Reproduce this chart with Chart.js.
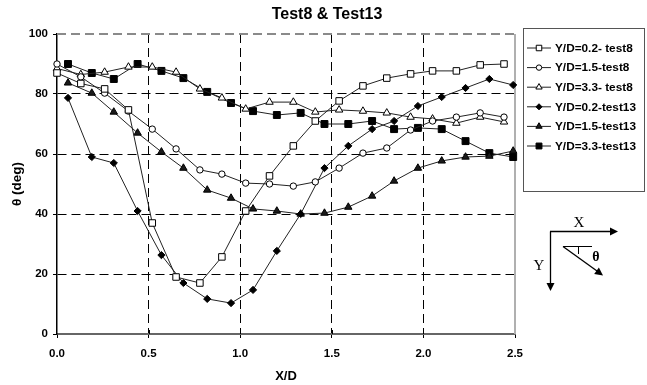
<!DOCTYPE html>
<html><head><meta charset="utf-8">
<script src="https://cdn.jsdelivr.net/npm/chart.js@4.4.0/dist/chart.umd.min.js"></script>
<style>html,body{margin:0;padding:0;background:#fff;}#wrap{width:647px;height:385px;position:relative;}</style>
</head><body><div id="wrap"><canvas id="c" width="647" height="385"></canvas></div>
<script>
// ---- data ----
const xTest8  = [0.00,0.13,0.26,0.39,0.52,0.65,0.78,0.90,1.03,1.16,1.29,1.41,1.54,1.67,1.80,1.93,2.05,2.18,2.31,2.44];
const xTest13 = [0.06,0.19,0.31,0.44,0.57,0.69,0.82,0.95,1.07,1.20,1.33,1.46,1.59,1.72,1.84,1.97,2.10,2.23,2.36,2.49];
const yd02test8  = [87,83.5,81.7,74.7,37,19,17,25.7,41,52.7,62.7,71,77.7,82.7,85.3,86.7,87.7,87.7,89.7,90];
const yd15test8  = [90,85.7,80.3,74.3,68.3,61.7,54.7,53.3,50.3,50,49.3,50.7,55.3,60.3,62,68,71,72.3,73.7,72.3];
const yd33test8  = [88.5,86.5,87.3,89,89,87.3,81.7,78.7,75,77.3,77.3,74,74.7,74.3,73.7,72.3,71.7,70.3,72.3,70.7];
const yd02test13 = [78.7,59,57,41,26.3,17,11.7,10.3,14.7,27.7,40,55.3,62.7,68.3,71,76,79,82,85,83];
const yd15test13 = [83.7,80.3,74,67,60.7,55.3,48,45.3,41.7,41,40,40.3,42.3,46,51,55.3,57.7,59,59.3,61];
const yd33test13 = [90,87,85,90,87.7,85.3,80.7,77,74.3,73,73.7,70,70,71,68.3,68.7,68.3,64.3,60.3,59];
const seriesLabels = ["Y/D=0.2- test8","Y/D=1.5-test8","Y/D=3.3- test8","Y/D=0.2-test13","Y/D=1.5-test13","Y/D=3.3-test13"];
const xTickValues = [0,0.5,1.0,1.5,2.0,2.5];
const yTickValues = [0,20,40,60,80,100];
const chartTitle = "Test8 & Test13";
const xTitle = "X/D";
const yTitle = "θ (deg)";

const pts = (xs, ys) => xs.map((x, i) => ({x: x, y: ys[i]}));
const styles = [
  {pointStyle:'rect', pointRadius:4.6, bg:'#fff'},
  {pointStyle:'circle', pointRadius:3.2, bg:'#fff'},
  {pointStyle:'triangle', pointRadius:4.3, bg:'#fff'},
  {pointStyle:'rectRot', pointRadius:3.6, bg:'#000'},
  {pointStyle:'triangle', pointRadius:4.3, bg:'#1a1a1a'},
  {pointStyle:'rect', pointRadius:4.9, bg:'#000'}
];
const seriesData = [
  pts(xTest8, yd02test8), pts(xTest8, yd15test8), pts(xTest8, yd33test8),
  pts(xTest13, yd02test13), pts(xTest13, yd15test13), pts(xTest13, yd33test13)
];
const datasets = seriesData.map((d, i) => ({
  label: seriesLabels[i], data: d, showLine: true, tension: 0,
  borderColor: '#222', borderWidth: 1,
  pointStyle: styles[i].pointStyle, pointRadius: styles[i].pointRadius,
  pointBackgroundColor: styles[i].bg, pointBorderColor: '#000', pointBorderWidth: 1,
  clip: false
}));

const FONT = '"Liberation Sans", Arial, sans-serif';

function drawMarker(ctx, style, r, bg, x, y) {
  ctx.save();
  ctx.fillStyle = bg; ctx.strokeStyle = '#000'; ctx.lineWidth = 1;
  ctx.beginPath();
  if (style === 'rect') {
    const s = r * Math.SQRT1_2; ctx.rect(x - s, y - s, 2*s, 2*s);
  } else if (style === 'circle') {
    ctx.arc(x, y, r, 0, Math.PI*2);
  } else if (style === 'triangle') {
    for (let k = 0; k < 3; k++) {
      const a = -Math.PI/2 + k*2*Math.PI/3;
      const px = x + Math.cos(a)*r, py = y + Math.sin(a)*r;
      k ? ctx.lineTo(px, py) : ctx.moveTo(px, py);
    }
    ctx.closePath();
  } else if (style === 'rectRot') {
    ctx.moveTo(x, y - r); ctx.lineTo(x + r, y); ctx.lineTo(x, y + r); ctx.lineTo(x - r, y); ctx.closePath();
  }
  ctx.fill(); ctx.stroke();
  ctx.restore();
}

function arrowHead(ctx, x1, y1, x2, y2, len, hw) {
  const a = Math.atan2(y2 - y1, x2 - x1);
  ctx.beginPath();
  ctx.moveTo(x2, y2);
  ctx.lineTo(x2 - len*Math.cos(a) + hw*Math.sin(a), y2 - len*Math.sin(a) - hw*Math.cos(a));
  ctx.lineTo(x2 - len*Math.cos(a) - hw*Math.sin(a), y2 - len*Math.sin(a) + hw*Math.cos(a));
  ctx.closePath(); ctx.fill();
}

const decor = {
  id: 'decor',
  beforeDatasetsDraw(chart) {
    const {ctx, chartArea: a} = chart;
    ctx.save();
    ctx.strokeStyle = '#8a8a8a'; ctx.lineWidth = 2;
    ctx.setLineDash([9,5]);
    ctx.beginPath(); ctx.moveTo(a.left, a.top); ctx.lineTo(a.right, a.top); ctx.stroke();
    ctx.setLineDash([]);
    ctx.strokeStyle = '#b0b0b0';
    ctx.beginPath(); ctx.moveTo(a.right, a.top); ctx.lineTo(a.right, a.bottom); ctx.stroke();
    // x tick marks crossing the axis line
    const xs = chart.scales.x;
    ctx.strokeStyle = '#000'; ctx.lineWidth = 1;
    xTickValues.forEach(v => {
      if (v === 0 || v === 2.5) return;
      const px = Math.round(xs.getPixelForValue(v)) + 0.5;
      ctx.beginPath(); ctx.moveTo(px, a.bottom - 4); ctx.lineTo(px, a.bottom); ctx.stroke();
    });
    ctx.restore();
  },
  afterDraw(chart) {
    const {ctx, chartArea: a} = chart;
    ctx.save();
    // title
    ctx.fillStyle = '#000';
    ctx.font = 'bold 16px ' + FONT;
    ctx.textAlign = 'center'; ctx.textBaseline = 'middle';
    ctx.fillText(chartTitle, 327, 15);
    // legend
    const lx = 523.5, ly = 28.5, lw = 121, lh = 163;
    ctx.strokeStyle = '#555'; ctx.lineWidth = 1;
    ctx.strokeRect(lx, ly, lw, lh);
    ctx.font = 'bold 11.8px ' + FONT;
    ctx.textAlign = 'left';
    chart.data.datasets.forEach((ds, i) => {
      const y = 48 + i * 19.6;
      ctx.strokeStyle = '#222'; ctx.lineWidth = 1;
      ctx.beginPath(); ctx.moveTo(527, y); ctx.lineTo(551, y); ctx.stroke();
      drawMarker(ctx, ds.pointStyle, ds.pointRadius * 0.85, ds.pointBackgroundColor, 539, y);
      ctx.fillStyle = '#000';
      ctx.fillText(ds.label, 555, y + 0.5);
    });
    // axis diagram
    ctx.strokeStyle = '#000'; ctx.fillStyle = '#000'; ctx.lineWidth = 1.3;
    ctx.beginPath(); ctx.moveTo(550, 231.5); ctx.lineTo(611, 231.5); ctx.stroke();
    arrowHead(ctx, 550, 231.5, 618, 231.5, 8, 4);
    ctx.beginPath(); ctx.moveTo(550.5, 231.5); ctx.lineTo(550.5, 284); ctx.stroke();
    arrowHead(ctx, 550.5, 231.5, 550.5, 291, 8, 4);
    ctx.beginPath(); ctx.moveTo(563, 246.5); ctx.lineTo(597, 271); ctx.stroke();
    arrowHead(ctx, 563, 246.5, 603, 275.5, 8, 4);
    ctx.lineWidth = 1;
    ctx.beginPath(); ctx.moveTo(563, 246.5); ctx.lineTo(592, 246.5); ctx.stroke();
    ctx.beginPath(); ctx.moveTo(578.5, 246.5); ctx.lineTo(578.5, 254); ctx.stroke();
    ctx.font = '15px "Liberation Serif", "DejaVu Serif", serif';
    ctx.textAlign = 'center'; ctx.textBaseline = 'middle';
    ctx.fillText('X', 579, 223);
    ctx.fillText('Y', 539, 266);
    ctx.font = 'bold 14px "Liberation Serif", "DejaVu Serif", serif';
    ctx.fillText('θ', 596, 257);
    ctx.restore();
  }
};

const edge = (v, lo, hi) => Math.abs(v - lo) < 1e-9 || Math.abs(v - hi) < 1e-9;

new Chart(document.getElementById('c'), {
  type: 'scatter',
  data: { datasets },
  options: {
    responsive: false, animation: false, devicePixelRatio: 1,
    layout: { padding: { left: 5, right: 132, top: 34, bottom: 0 } },
    plugins: { legend: { display: false }, title: { display: false }, tooltip: { enabled: false } },
    scales: {
      x: {
        type: 'linear', min: 0, max: 2.5,
        afterFit: s => { s.height = 51; },
        afterBuildTicks: s => { s.ticks = xTickValues.map(v => ({value: v})); },
        ticks: { font: { family: FONT, size: 11.5, weight: 'bold' }, color: '#000', padding: 9,
                 callback: v => Number(v).toFixed(1), autoSkip: false, maxRotation: 0 },
        grid: { color: c => (c.tick && edge(c.tick.value, 0, 2.5)) ? 'rgba(0,0,0,0)' : '#000',
                lineWidth: 1, tickLength: 4, tickColor: '#000', tickBorderDash: [] },
        border: { display: true, color: '#666', width: 2, dash: [9,5] },
        title: { display: true, text: xTitle, font: { family: FONT, size: 13, weight: 'bold' }, color: '#000', padding: { top: 0, bottom: 1 } }
      },
      y: {
        type: 'linear', min: 0, max: 100,
        afterFit: s => { s.width = 52; },
        afterBuildTicks: s => { s.ticks = yTickValues.map(v => ({value: v})); },
        ticks: { font: { family: FONT, size: 11.5, weight: 'bold' }, color: '#000', padding: 5 },
        grid: { color: c => (c.tick && edge(c.tick.value, 0, 100)) ? 'rgba(0,0,0,0)' : '#000',
                lineWidth: 1, tickLength: 4, tickColor: '#000', tickBorderDash: [] },
        border: { display: true, color: '#000', width: 1.5, dash: [9,5] },
        title: { display: true, text: yTitle, font: { family: FONT, size: 13.5, weight: 'bold' }, color: '#000', padding: { top: 4, bottom: 0 } }
      }
    }
  },
  plugins: [decor]
});
</script></body></html>
